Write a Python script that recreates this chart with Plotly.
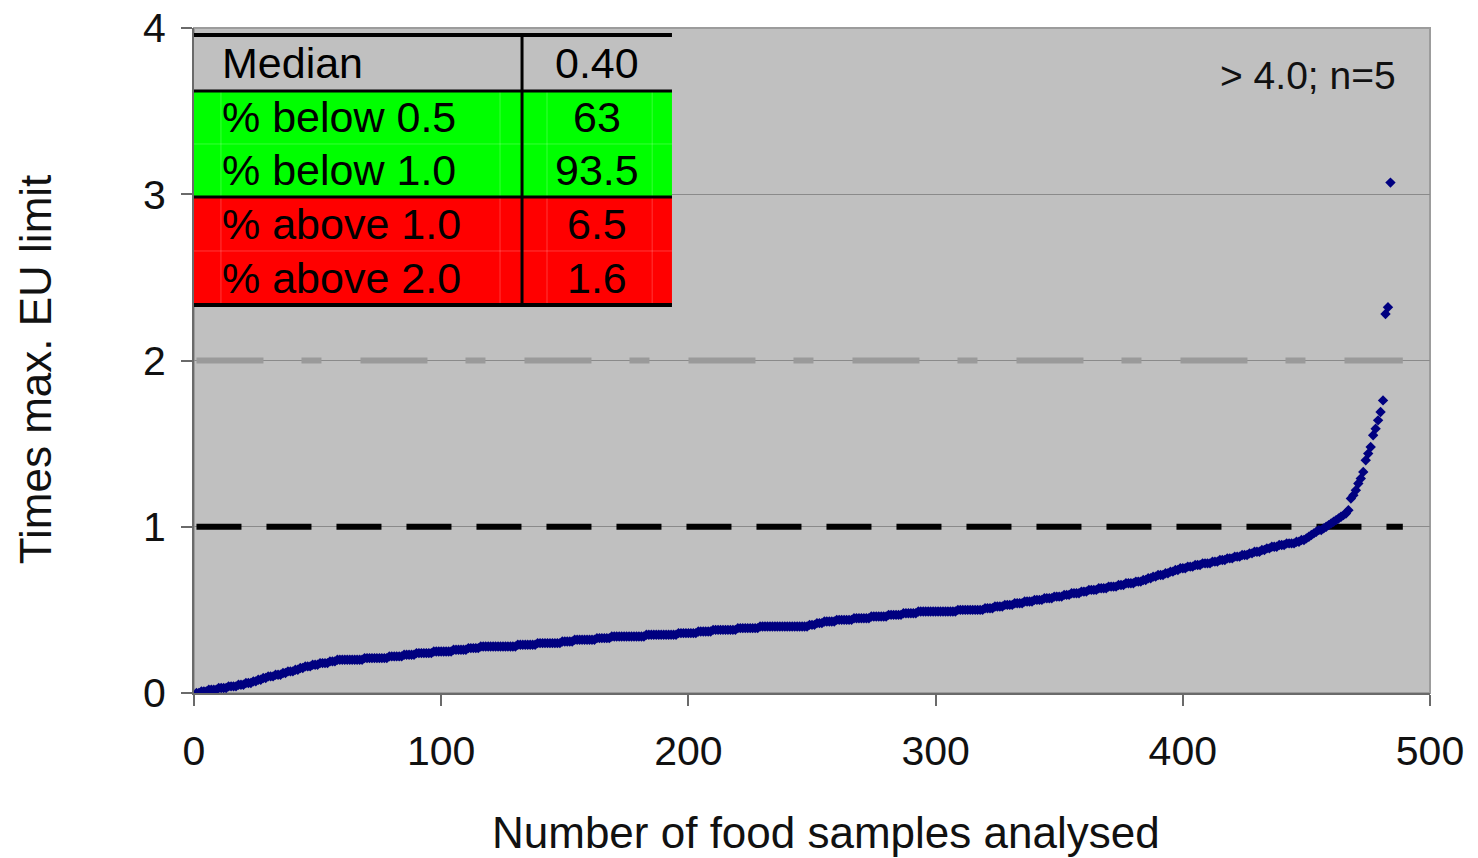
import plotly.graph_objects as go

# Sorted results, expressed as multiples of the maximum EU limit (values <= 4 only)
ratio_values = [
    0.00, 0.00, 0.01, 0.01, 0.01, 0.02, 0.02, 0.02, 0.02, 0.03,
    0.03, 0.03, 0.03, 0.04, 0.04, 0.04, 0.04, 0.05, 0.05, 0.05,
    0.06, 0.06, 0.06, 0.07, 0.07, 0.08, 0.08, 0.09, 0.09, 0.10,
    0.10, 0.10, 0.11, 0.11, 0.11, 0.12, 0.12, 0.13, 0.13, 0.13,
    0.14, 0.14, 0.15, 0.15, 0.16, 0.16, 0.16, 0.17, 0.17, 0.17,
    0.18, 0.18, 0.18, 0.18, 0.19, 0.19, 0.19, 0.20, 0.20, 0.20,
    0.20, 0.20, 0.20, 0.20, 0.20, 0.20, 0.20, 0.20, 0.21, 0.21,
    0.21, 0.21, 0.21, 0.21, 0.21, 0.21, 0.21, 0.21, 0.22, 0.22,
    0.22, 0.22, 0.22, 0.22, 0.23, 0.23, 0.23, 0.23, 0.23, 0.24,
    0.24, 0.24, 0.24, 0.24, 0.24, 0.24, 0.25, 0.25, 0.25, 0.25,
    0.25, 0.25, 0.25, 0.25, 0.26, 0.26, 0.26, 0.26, 0.26, 0.26,
    0.27, 0.27, 0.27, 0.27, 0.27, 0.28, 0.28, 0.28, 0.28, 0.28,
    0.28, 0.28, 0.28, 0.28, 0.28, 0.28, 0.28, 0.28, 0.28, 0.28,
    0.29, 0.29, 0.29, 0.29, 0.29, 0.29, 0.29, 0.29, 0.30, 0.30,
    0.30, 0.30, 0.30, 0.30, 0.30, 0.30, 0.30, 0.30, 0.31, 0.31,
    0.31, 0.31, 0.31, 0.32, 0.32, 0.32, 0.32, 0.32, 0.32, 0.32,
    0.32, 0.32, 0.33, 0.33, 0.33, 0.33, 0.33, 0.33, 0.34, 0.34,
    0.34, 0.34, 0.34, 0.34, 0.34, 0.34, 0.34, 0.34, 0.34, 0.34,
    0.34, 0.34, 0.35, 0.35, 0.35, 0.35, 0.35, 0.35, 0.35, 0.35,
    0.35, 0.35, 0.35, 0.35, 0.35, 0.36, 0.36, 0.36, 0.36, 0.36,
    0.36, 0.36, 0.36, 0.37, 0.37, 0.37, 0.37, 0.37, 0.37, 0.38,
    0.38, 0.38, 0.38, 0.38, 0.38, 0.38, 0.38, 0.38, 0.38, 0.39,
    0.39, 0.39, 0.39, 0.39, 0.39, 0.39, 0.39, 0.39, 0.40, 0.40,
    0.40, 0.40, 0.40, 0.40, 0.40, 0.40, 0.40, 0.40, 0.40, 0.40,
    0.40, 0.40, 0.40, 0.40, 0.40, 0.40, 0.40, 0.40, 0.41, 0.41,
    0.41, 0.42, 0.42, 0.42, 0.43, 0.43, 0.43, 0.43, 0.43, 0.44,
    0.44, 0.44, 0.44, 0.44, 0.44, 0.44, 0.45, 0.45, 0.45, 0.45,
    0.45, 0.45, 0.45, 0.46, 0.46, 0.46, 0.46, 0.46, 0.46, 0.46,
    0.47, 0.47, 0.47, 0.47, 0.47, 0.47, 0.48, 0.48, 0.48, 0.48,
    0.48, 0.48, 0.49, 0.49, 0.49, 0.49, 0.49, 0.49, 0.49, 0.49,
    0.49, 0.49, 0.49, 0.49, 0.49, 0.49, 0.49, 0.49, 0.50, 0.50,
    0.50, 0.50, 0.50, 0.50, 0.50, 0.50, 0.50, 0.50, 0.50, 0.51,
    0.51, 0.51, 0.51, 0.52, 0.52, 0.52, 0.52, 0.53, 0.53, 0.53,
    0.53, 0.54, 0.54, 0.54, 0.54, 0.55, 0.55, 0.55, 0.55, 0.56,
    0.56, 0.56, 0.56, 0.57, 0.57, 0.57, 0.57, 0.58, 0.58, 0.58,
    0.58, 0.59, 0.59, 0.59, 0.60, 0.60, 0.60, 0.60, 0.61, 0.61,
    0.61, 0.62, 0.62, 0.62, 0.62, 0.63, 0.63, 0.63, 0.63, 0.64,
    0.64, 0.64, 0.64, 0.65, 0.65, 0.65, 0.66, 0.66, 0.66, 0.66,
    0.67, 0.67, 0.67, 0.68, 0.68, 0.69, 0.69, 0.70, 0.70, 0.71,
    0.71, 0.71, 0.72, 0.72, 0.73, 0.73, 0.74, 0.74, 0.75, 0.75,
    0.75, 0.76, 0.76, 0.76, 0.77, 0.77, 0.77, 0.78, 0.78, 0.78,
    0.78, 0.79, 0.79, 0.79, 0.80, 0.80, 0.80, 0.81, 0.81, 0.81,
    0.82, 0.82, 0.82, 0.83, 0.83, 0.83, 0.84, 0.84, 0.85, 0.85,
    0.85, 0.86, 0.86, 0.87, 0.87, 0.88, 0.88, 0.88, 0.89, 0.89,
    0.89, 0.90, 0.90, 0.90, 0.90, 0.91, 0.91, 0.92, 0.92, 0.93,
    0.94, 0.95, 0.96, 0.97, 0.98, 0.98, 0.99, 1.00, 1.01, 1.02,
    1.03, 1.04, 1.05, 1.06, 1.07, 1.08, 1.10, 1.17, 1.19, 1.22,
    1.26, 1.29, 1.33, 1.40, 1.44, 1.48, 1.55, 1.59, 1.64, 1.69,
    1.76, 2.28, 2.32, 3.07,
]
sample_numbers = list(range(1, len(ratio_values) + 1))

total_samples = 489          # includes the 5 results above 4.0
eu_limit = 1.0
twice_limit = 2.0

x_ticks = [0, 100, 200, 300, 400, 500]
y_ticks = [0, 1, 2, 3, 4]

# Summary table
table_labels = ["Median", "% below 0.5", "% below 1.0", "% above 1.0", "% above 2.0"]
table_values = ["0.40", "63", "93.5", "6.5", "1.6"]
table_fills = ["#c0c0c0", "#00ff00", "#00ff00", "#ff0000", "#ff0000"]

FONT = "Liberation Sans, Arial, sans-serif"

fig = go.Figure()

# 2x limit: long-short dashed grey line
fig.add_trace(go.Scatter(
    x=[1, total_samples], y=[twice_limit, twice_limit], mode="lines",
    line=dict(color="#9a9a9a", width=6, dash="67px,38px,20px,39px"),
    hoverinfo="skip", showlegend=False))

# EU limit: black dashed line
fig.add_trace(go.Scatter(
    x=[1, total_samples], y=[eu_limit, eu_limit], mode="lines",
    line=dict(color="#000000", width=6, dash="45px,25px"),
    hoverinfo="skip", showlegend=False))

fig.add_trace(go.Scatter(
    x=sample_numbers, y=ratio_values, mode="markers",
    marker=dict(symbol="diamond", size=8, color="#000080",
                line=dict(width=0)),
    showlegend=False))

shapes = []
annotations = []

# plot-area border (top/right lighter grey)
shapes.append(dict(type="rect", xref="x domain", yref="y domain",
                   x0=0, x1=1, y0=0, y1=1,
                   line=dict(color="#9c9c9c", width=2), layer="below"))

# table geometry in axis-domain fractions
tbl_left, tbl_right, tbl_div = 0.0, 0.3867, 0.2654
row_edges = [0.9895, 0.9053, 0.8256, 0.7459, 0.6647, 0.5835]

for i, fill in enumerate(table_fills):
    shapes.append(dict(type="rect", xref="x domain", yref="y domain",
                       x0=tbl_left, x1=tbl_right,
                       y0=row_edges[i + 1], y1=row_edges[i],
                       fillcolor=fill, line=dict(width=0), layer="above"))

# faint cell gridlines inside the coloured blocks
for yy in (row_edges[2], row_edges[4]):
    shapes.append(dict(type="line", xref="x domain", yref="y domain",
                       x0=tbl_left, x1=tbl_right, y0=yy, y1=yy,
                       line=dict(color="rgba(255,255,255,0.22)", width=1),
                       layer="above"))
for xx in (0.0218, 0.2476, 0.2856, 0.3707):
    shapes.append(dict(type="line", xref="x domain", yref="y domain",
                       x0=xx, x1=xx, y0=row_edges[5], y1=row_edges[1],
                       line=dict(color="rgba(255,255,255,0.22)", width=1),
                       layer="above"))

# black rules
for yy, w in ((row_edges[0], 4), (row_edges[1], 3), (row_edges[3], 3), (row_edges[5], 4)):
    shapes.append(dict(type="line", xref="x domain", yref="y domain",
                       x0=tbl_left, x1=tbl_right, y0=yy, y1=yy,
                       line=dict(color="#000000", width=w), layer="above"))
shapes.append(dict(type="line", xref="x domain", yref="y domain",
                   x0=tbl_div, x1=tbl_div, y0=row_edges[5], y1=row_edges[0],
                   line=dict(color="#000000", width=3), layer="above"))

for i, (lab, val) in enumerate(zip(table_labels, table_values)):
    yc = (row_edges[i] + row_edges[i + 1]) / 2
    annotations.append(dict(xref="x domain", yref="y domain", x=0.021, y=yc,
                            text=lab, showarrow=False, xanchor="left",
                            yanchor="middle",
                            font=dict(family=FONT, size=43, color="#000")))
    annotations.append(dict(xref="x domain", yref="y domain", x=0.326, y=yc,
                            text=val, showarrow=False, xanchor="center",
                            yanchor="middle",
                            font=dict(family=FONT, size=43, color="#000")))

annotations.append(dict(xref="x domain", yref="y domain", x=0.974, y=0.929,
                        text="&gt; 4.0; n=5", showarrow=False, xanchor="right",
                        yanchor="middle",
                        font=dict(family=FONT, size=39, color="#111")))

annotations.append(dict(xref="paper", yref="paper", x=-0.1286, y=0.487,
                        text="Times max. EU limit", showarrow=False,
                        textangle=-90, xanchor="center", yanchor="middle",
                        font=dict(family=FONT, size=44, color="#111")))
annotations.append(dict(xref="paper", yref="paper", x=0.511, y=-0.2105,
                        text="Number of food samples analysed", showarrow=False,
                        xanchor="center", yanchor="middle",
                        font=dict(family=FONT, size=44, color="#111")))

fig.update_layout(
    width=1478, height=858,
    margin=dict(l=194, r=48, t=28, b=165, autoexpand=False),
    paper_bgcolor="#ffffff",
    plot_bgcolor="#c0c0c0",
    shapes=shapes,
    annotations=annotations,
    showlegend=False,
)

fig.update_xaxes(
    range=[0, 500], tickvals=x_ticks, ticktext=[str(v) for v in x_ticks],
    showgrid=False, zeroline=False, automargin=False,
    showline=True, linecolor="#6a6a6a", linewidth=2,
    ticks="outside", ticklen=11, tickwidth=2, tickcolor="#6a6a6a",
    ticklabelstandoff=10,
    tickfont=dict(family=FONT, size=41, color="#111"),
)
fig.update_yaxes(
    range=[0, 4], tickvals=y_ticks, ticktext=[str(v) for v in y_ticks],
    showgrid=True, gridcolor="#8a8a8a", gridwidth=1, zeroline=False,
    automargin=False,
    showline=True, linecolor="#6a6a6a", linewidth=2,
    ticks="outside", ticklen=11, tickwidth=2, tickcolor="#6a6a6a",
    ticklabelstandoff=7,
    tickfont=dict(family=FONT, size=41, color="#111"),
)

fig.write_html("out.html")
